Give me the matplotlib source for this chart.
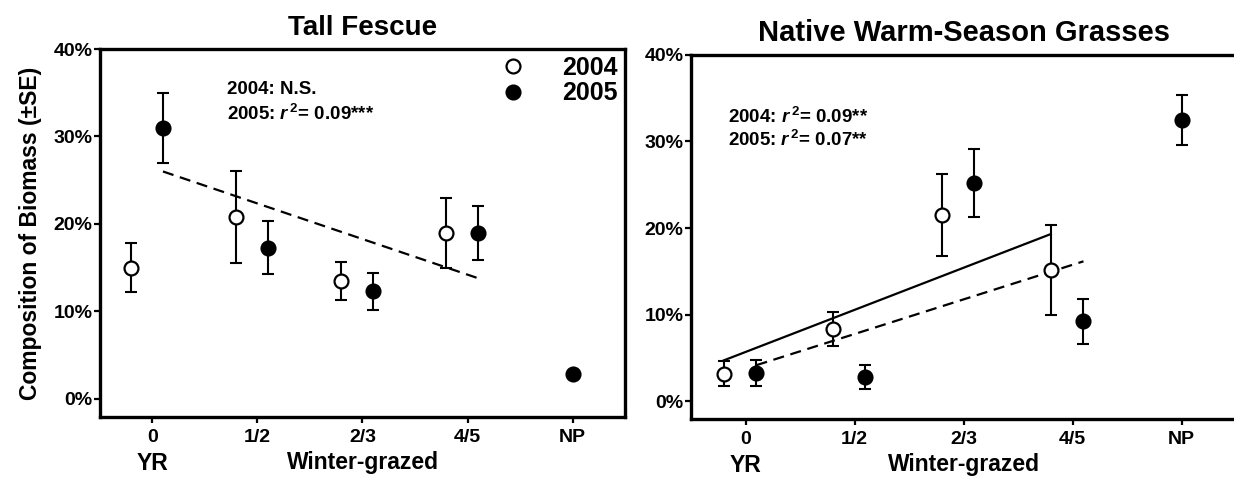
import numpy as np
import matplotlib
matplotlib.use("Agg")
import matplotlib.pyplot as plt
from matplotlib.ticker import PercentFormatter
from matplotlib.lines import Line2D

plt.rcParams['font.family'] = ['Liberation Sans', 'DejaVu Sans']
plt.rcParams['font.weight'] = 'bold'
plt.rcParams['mathtext.fontset'] = 'custom'
plt.rcParams['mathtext.rm'] = 'Liberation Sans:bold'
plt.rcParams['mathtext.it'] = 'Liberation Sans:italic:bold'
plt.rcParams['mathtext.bf'] = 'Liberation Sans:bold'

# categories
categories = ["0", "1/2", "2/3", "4/5", "NP"]

# Tall Fescue (percent)
tf_2004_x = [-0.2, 0.8, 1.8, 2.8]
tf_2004 = [15.0, 20.8, 13.5, 19.0]
tf_2004_se = [2.8, 5.3, 2.2, 4.0]
tf_2005_x = [0.1, 1.1, 2.1, 3.1, 4.0]
tf_2005 = [31.0, 17.3, 12.3, 19.0, 2.8]
tf_2005_se = [4.0, 3.0, 2.15, 3.1, 0.0]
tf_fit05_x = [0.1, 3.1]
tf_fit05_y = [26.0, 13.8]

# Native warm-season grasses (percent)
nw_2004_x = [-0.2, 0.8, 1.8, 2.8]
nw_2004 = [3.15, 8.3, 21.5, 15.1]
nw_2004_se = [1.45, 1.95, 4.7, 5.2]
nw_2005_x = [0.1, 1.1, 2.1, 3.1, 4.0]
nw_2005 = [3.2, 2.8, 25.2, 9.2, 32.5]
nw_2005_se = [1.5, 1.35, 3.9, 2.55, 2.9]
nw_fit04_x = [-0.2, 2.8]
nw_fit04_y = [4.7, 19.3]
nw_fit05_x = [0.1, 3.1]
nw_fit05_y = [4.15, 16.15]

fig = plt.figure(figsize=(12.34, 4.79), dpi=100)
ax1 = fig.add_axes([0.0810, 0.1294, 0.4255, 0.7683])
ax2 = fig.add_axes([0.5600, 0.1253, 0.4417, 0.7600])

ms = 10
mew = 1.6
elw = 1.5
cap = 4.5


def draw_points(ax, x, y, se, filled):
    fc = "black" if filled else "white"
    ax.errorbar(x, y, yerr=se, fmt="none", ecolor="black", elinewidth=elw,
                capsize=cap, capthick=elw, zorder=2)
    ax.plot(x, y, "o", ms=ms, mfc=fc, mec="black", mew=mew, zorder=4)


def style_axes(ax, title, title_size):
    ax.set_xlim(-0.5, 4.5)
    ax.set_ylim(-2.07, 40)
    ax.set_yticks([0, 10, 20, 30, 40])
    ax.yaxis.set_major_formatter(PercentFormatter(decimals=0))
    ax.set_xticks(range(len(categories)))
    ax.set_xticklabels(categories)
    for s in ax.spines.values():
        s.set_linewidth(2.4)
    ax.tick_params(axis="y", length=4.5, width=1.6, labelsize=14, pad=1)
    ax.tick_params(axis="x", length=4.5, width=1.6, labelsize=14, pad=4)
    for lab in ax.get_xticklabels() + ax.get_yticklabels():
        lab.set_fontweight("bold")
    ax.set_title(title, fontsize=title_size, fontweight="bold", pad=10)
    ax.set_xlabel("Winter-grazed", fontsize=16.5, fontweight="bold", labelpad=4)
    ax.text(0, -0.095, "YR", transform=ax.get_xaxis_transform(), ha="center",
            va="top", fontsize=16.5, fontweight="bold")


# left panel
style_axes(ax1, "Tall Fescue", 20)
ax1.plot(tf_fit05_x, tf_fit05_y, color="black", lw=1.6, dashes=(5, 3), zorder=3)
draw_points(ax1, tf_2004_x, tf_2004, tf_2004_se, False)
draw_points(ax1, tf_2005_x, tf_2005, tf_2005_se, True)
ax1.set_ylabel("Composition of Biomass (\u00b1SE)", fontsize=16.5, fontweight="bold", labelpad=8)
ax1.text(0.242, 0.889, "2004: N.S.", transform=ax1.transAxes, fontsize=13.5,
         fontweight="bold", va="center")
ax1.text(0.242, 0.824, "2005: $r^{\\,2}$= 0.09***", transform=ax1.transAxes, fontsize=13.5,
         fontweight="bold", va="center")
handles = [
    Line2D([0], [0], marker="o", ls="none", ms=ms, mfc="white", mec="black", mew=mew, label="2004"),
    Line2D([0], [0], marker="o", ls="none", ms=ms, mfc="black", mec="black", mew=mew, label="2005"),
]
leg = ax1.legend(handles=handles, loc="upper right", bbox_to_anchor=(1.02, 1.028), frameon=False,
                 prop={"size": 18, "weight": "bold"}, handlelength=1.0, handletextpad=1.5,
                 labelspacing=0.05, borderaxespad=0.3)

# right panel
style_axes(ax2, "Native Warm-Season Grasses", 21)
ax2.plot(nw_fit04_x, nw_fit04_y, color="black", lw=1.6, zorder=3)
ax2.plot(nw_fit05_x, nw_fit05_y, color="black", lw=1.6, dashes=(5, 3), zorder=3)
draw_points(ax2, nw_2004_x, nw_2004, nw_2004_se, False)
draw_points(ax2, nw_2005_x, nw_2005, nw_2005_se, True)
ax2.text(0.067, 0.830, "2004: $r^{\\,2}$= 0.09**", transform=ax2.transAxes, fontsize=13.5,
         fontweight="bold", va="center")
ax2.text(0.067, 0.766, "2005: $r^{\\,2}$= 0.07**", transform=ax2.transAxes, fontsize=13.5,
         fontweight="bold", va="center")

fig.savefig("out.png", dpi=100)
